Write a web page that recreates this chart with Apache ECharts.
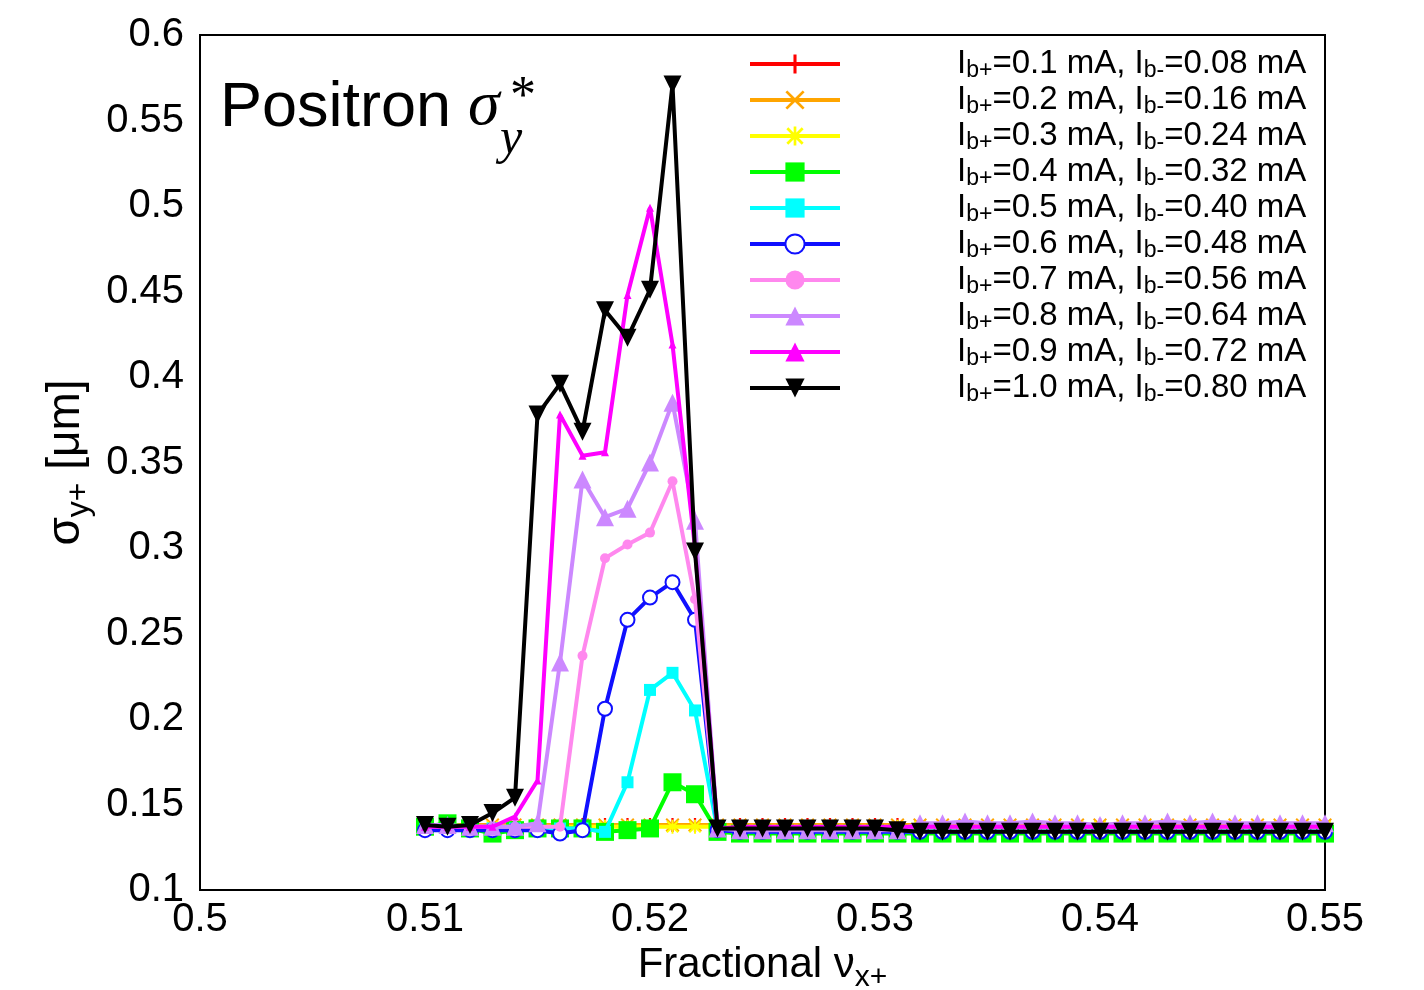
<!DOCTYPE html>
<html>
<head>
<meta charset="utf-8">
<script src="https://cdn.jsdelivr.net/npm/echarts@6/dist/echarts.min.js"></script>
<style>html,body{margin:0;padding:0;background:#fff}#c{width:1424px;height:990px}</style>
</head>
<body>
<div id="c"></div>
<script>
// ---- data ----
const tunes = [0.510,0.511,0.512,0.513,0.514,0.515,0.516,0.517,0.518,0.519,0.520,0.521,0.522,0.523,
  0.524,0.525,0.526,0.527,0.528,0.529,0.530,0.531,0.532,0.533,0.534,0.535,0.536,0.537,0.538,0.539,
  0.540,0.541,0.542,0.543,0.544,0.545,0.546,0.547,0.548,0.549,0.550];
const ibPlus  = ['0.1','0.2','0.3','0.4','0.5','0.6','0.7','0.8','0.9','1.0'];
const ibMinus = ['0.08','0.16','0.24','0.32','0.40','0.48','0.56','0.64','0.72','0.80'];
const xTickLabels = ['0.5','0.51','0.52','0.53','0.54','0.55'];
const yTickLabels = ['0.1','0.15','0.2','0.25','0.3','0.35','0.4','0.45','0.5','0.55','0.6'];

const s01 = [0.138,0.138,0.138,0.138,0.138,0.138,0.138,0.138,0.138,0.138,0.138,0.138,0.138,0.138,
  0.138,0.138,0.138,0.138,0.138,0.138,0.138,0.138,0.138,0.138,0.138,0.138,0.138,0.138,0.138,0.138,
  0.138,0.138,0.138,0.138,0.138,0.138,0.138,0.138,0.138,0.138,0.138];
const s02 = [0.138,0.138,0.138,0.138,0.138,0.138,0.138,0.138,0.138,0.138,0.138,0.138,0.138,0.138,
  0.138,0.138,0.138,0.138,0.138,0.138,0.138,0.138,0.138,0.138,0.138,0.138,0.138,0.138,0.138,0.138,
  0.138,0.138,0.138,0.138,0.138,0.138,0.138,0.138,0.138,0.138,0.138];
const s03 = [0.137,0.137,0.137,0.137,0.137,0.137,0.137,0.137,0.137,0.137,0.137,0.137,0.137,0.137,
  0.137,0.137,0.137,0.137,0.137,0.137,0.137,0.137,0.137,0.137,0.137,0.137,0.137,0.137,0.137,0.137,
  0.137,0.137,0.137,0.137,0.137,0.137,0.137,0.137,0.137,0.137,0.137];
const s04 = [0.137,0.139,0.136,0.133,0.135,0.136,0.136,0.136,0.134,0.135,0.136,0.163,0.156,0.134,
  0.133,0.133,0.133,0.133,0.133,0.133,0.133,0.133,0.133,0.133,0.133,0.133,0.133,0.133,0.133,0.133,
  0.133,0.133,0.133,0.133,0.133,0.133,0.133,0.133,0.133,0.133,0.133];
const s05 = [0.136,0.136,0.136,0.136,0.136,0.136,0.136,0.136,0.134,0.163,0.217,0.227,0.205,0.135,
  0.134,0.134,0.134,0.134,0.134,0.134,0.134,0.134,0.134,0.134,0.134,0.134,0.134,0.134,0.134,0.134,
  0.134,0.134,0.134,0.134,0.134,0.134,0.134,0.134,0.134,0.134,0.134];
const s06 = [0.135,0.135,0.135,0.135,0.135,0.135,0.133,0.135,0.206,0.258,0.271,0.280,0.258,0.135,
  0.134,0.134,0.134,0.134,0.134,0.134,0.134,0.134,0.134,0.134,0.134,0.134,0.134,0.134,0.134,0.134,
  0.134,0.134,0.134,0.134,0.134,0.134,0.134,0.134,0.134,0.134,0.134];
const s07 = [0.137,0.137,0.137,0.137,0.137,0.137,0.137,0.237,0.294,0.302,0.309,0.339,0.270,0.136,
  0.136,0.136,0.136,0.136,0.136,0.136,0.136,0.136,0.137,0.137,0.137,0.137,0.137,0.137,0.137,0.137,
  0.137,0.137,0.137,0.137,0.137,0.137,0.137,0.137,0.137,0.137,0.137];
const s08 = [0.138,0.138,0.137,0.137,0.137,0.139,0.233,0.340,0.318,0.323,0.350,0.385,0.316,0.136,
  0.135,0.135,0.135,0.135,0.135,0.135,0.135,0.135,0.139,0.139,0.140,0.139,0.139,0.140,0.139,0.139,
  0.138,0.139,0.139,0.140,0.139,0.140,0.139,0.139,0.139,0.139,0.139];
const s09 = [0.137,0.137,0.137,0.137,0.143,0.164,0.378,0.354,0.356,0.448,0.499,0.419,0.300,0.136,
  0.137,0.137,0.137,0.137,0.137,0.137,0.137,0.137,0.137,0.137,0.137,0.137,0.137,0.137,0.137,0.137,
  0.137,0.137,0.137,0.137,0.137,0.137,0.137,0.137,0.137,0.137,0.137];
const s10 = [0.138,0.137,0.138,0.145,0.154,0.378,0.396,0.368,0.439,0.423,0.451,0.571,0.298,0.136,
  0.136,0.136,0.136,0.136,0.136,0.136,0.136,0.135,0.134,0.134,0.134,0.134,0.134,0.134,0.134,0.134,
  0.134,0.134,0.134,0.134,0.134,0.134,0.134,0.134,0.134,0.134,0.134];
const seriesValues = [s01,s02,s03,s04,s05,s06,s07,s08,s09,s10];

// ---- styles ----
const colors = ['#ff0000','#ffa500','#ffff00','#00ff00','#00ffff','#1010ff','#ff88ee','#cc88ff','#ff00ff','#000000'];
const PLUS = 'path://M0,4.2h10v1.6h-10zM4.2,0h1.6v10h-1.6z';
const CROSS = 'path://M1,0L5,4L9,0L10,1L6,5L10,9L9,10L5,6L1,10L0,9L4,5L0,1z';
const STAR = 'path://M0,4.3h10v1.4h-10zM4.3,0h1.4v10h-1.4zM1.5,0.5L5,4L8.5,0.5L9.5,1.5L6,5L9.5,8.5L8.5,9.5L5,6L1.5,9.5L0.5,8.5L4,5L0.5,1.5z';
const symbols = [PLUS, CROSS, STAR, 'rect', 'rect', 'emptyCircle', 'circle', 'triangle', 'triangle', 'triangle'];
const symSizes = [14, 14, 14, 18, 12, 14, 10, 18, 8, 18];
const symRot = [0,0,0,0,0,0,0,0,0,180];

const FONT = 'Liberation Sans, Arial, sans-serif';
const names = ibPlus.map((p, i) => 'Ib+=' + p + ' mA, Ib-=' + ibMinus[i] + ' mA');

const series = seriesValues.map((vals, i) => ({
  name: names[i],
  type: 'line',
  data: tunes.map((t, j) => [t, vals[j]]),
  symbol: symbols[i],
  symbolSize: symSizes[i],
  symbolRotate: symRot[i],
  showAllSymbol: true,
  lineStyle: { color: colors[i], width: 4 },
  itemStyle: { color: colors[i], borderColor: colors[i], borderWidth: i === 5 ? 4 : 0 },
  emphasis: { disabled: true },
  z: 2 + i,
  animation: false
}));

const chart = echarts.init(document.getElementById('c'), null, { renderer: 'canvas' });
chart.setOption({
  backgroundColor: '#fff',
  animation: false,
  grid: { left: 200, right: 99, top: 35, bottom: 100, containLabel: false, outerBoundsMode: 'none',
    show: true, borderColor: '#000', borderWidth: 2, backgroundColor: 'transparent' },
  xAxis: {
    type: 'value', min: 0.5, max: 0.55, interval: 0.01,
    axisLine: { show: true, lineStyle: { color: '#000', width: 2 } },
    axisTick: { show: false },
    splitLine: { show: false },
    axisLabel: {
      color: '#000', fontSize: 40, fontFamily: FONT, margin: 10,
      formatter: v => xTickLabels[Math.round((v - 0.5) / 0.01)]
    },
    name: 'Fractional ν{s|x+}',
    nameLocation: 'middle', nameGap: 38,
    nameTextStyle: {
      color: '#000', fontSize: 42, fontFamily: FONT,
      rich: { s: { fontSize: 30, fontFamily: FONT, color: '#000', padding: [24, 0, 0, 0] } }
    }
  },
  yAxis: {
    type: 'value', min: 0.1, max: 0.6, interval: 0.05,
    axisLine: { show: true, lineStyle: { color: '#000', width: 2 } },
    axisTick: { show: false },
    splitLine: { show: false },
    axisLabel: {
      color: '#000', fontSize: 40, fontFamily: FONT, margin: 16,
      formatter: v => yTickLabels[Math.round((v - 0.1) / 0.05)]
    },
    name: 'σ{s|y+} [μm]',
    nameLocation: 'middle', nameGap: 100, nameRotate: 90,
    nameTextStyle: {
      color: '#000', fontSize: 46, fontFamily: FONT,
      rich: { s: { fontSize: 32, fontFamily: FONT, color: '#000', padding: [26, 0, 0, 0] } }
    }
  },
  legend: {
    orient: 'vertical', left: 748, top: 46, padding: 0,
    itemWidth: 90, itemHeight: 24, itemGap: 0,
    data: names,
    lineStyle: { width: 4 },
    formatter: name => {
      const i = names.indexOf(name);
      return '{g|}{n|I}{s|b+}{n|=' + ibPlus[i] + ' mA, I}{s|b-}{n|=' + ibMinus[i] + ' mA}';
    },
    textStyle: {
      color: '#000', fontSize: 33, fontFamily: FONT,
      rich: {
        g: { width: 112 },
        n: { fontSize: 33, fontFamily: FONT, color: '#000', lineHeight: 33 },
        s: { fontSize: 23, fontFamily: FONT, color: '#000', padding: [13, 0, 0, 0], lineHeight: 20 }
      }
    },
    selectedMode: false
  },
  graphic: [
    { type: 'text', left: 220, top: 77, style: { text: 'Positron', fontSize: 63, fontFamily: FONT, fill: '#000' } },
    { type: 'text', left: 468, top: 75, style: { text: 'σ', fontSize: 64, fontStyle: 'italic', fontFamily: 'Liberation Serif, DejaVu Serif, serif', fill: '#000' } },
    { type: 'text', left: 510, top: 72, style: { text: '*', fontSize: 52, fontFamily: 'Liberation Serif, DejaVu Serif, serif', fill: '#000' } },
    { type: 'text', left: 500, top: 115, style: { text: 'y', fontSize: 50, fontStyle: 'italic', fontFamily: 'Liberation Serif, DejaVu Serif, serif', fill: '#000' } }
  ],
  series: series
});
</script>
</body>
</html>
